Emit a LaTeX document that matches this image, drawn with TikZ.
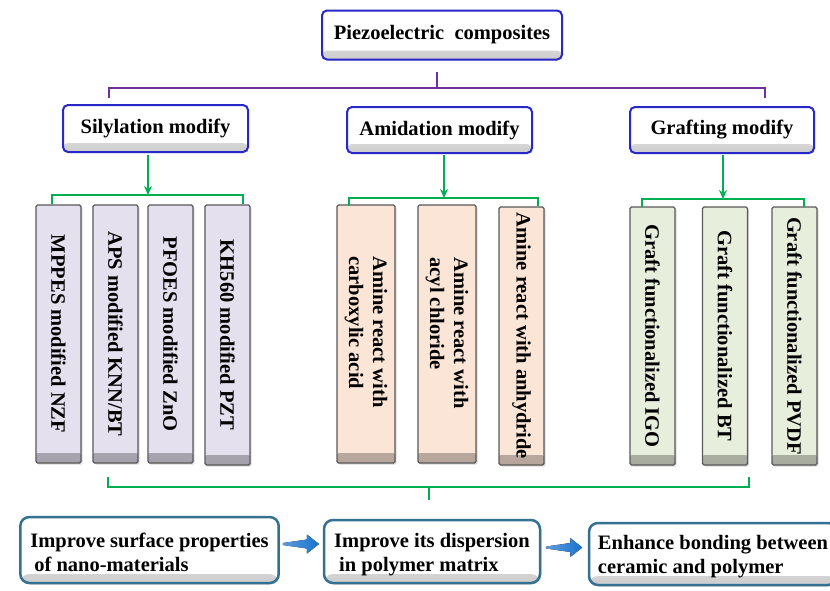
\documentclass[tikz,border=0pt]{standalone}
\usepackage{fontspec}
\setmainfont{Liberation Serif}
\usetikzlibrary{arrows.meta,shadows}
\definecolor{topblue}{RGB}{40,40,200}
\definecolor{brpurple}{RGB}{112,48,160}
\definecolor{brgreen}{RGB}{0,176,80}
\definecolor{lav}{RGB}{228,224,238}
\definecolor{peach}{RGB}{251,229,214}
\definecolor{lgreen}{RGB}{232,238,220}
\definecolor{steel}{RGB}{52,112,145}
\definecolor{arrblue}{RGB}{25,115,205}
\tikzset{
  x=1pt,y=-1pt,
  every node/.style={font=\fontsize{20.5}{24}\selectfont\bfseries},
  botshade/.style={path picture={\shade[top color=#1, bottom color=#1!72!black]
      ([yshift=10pt]path picture bounding box.south west) rectangle (path picture bounding box.south east);}},
  lightshade/.style={path picture={\shade[top color=#1, bottom color=#1!80!black]
      ([yshift=9pt]path picture bounding box.south west) rectangle (path picture bounding box.south east);}},
  headbox/.style={draw=topblue, line width=2pt, rounded corners=5pt, fill=white,
      lightshade=white, inner sep=0pt, drop shadow={opacity=0.25,shadow xshift=1pt,shadow yshift=-1pt}},
  childbox/.style={draw=black!65, line width=1.3pt, rounded corners=1.5pt, fill=#1,
      botshade=#1, inner sep=0pt, minimum width=45pt,
      drop shadow={opacity=0.3,shadow xshift=1.5pt,shadow yshift=-1.5pt}},
  vtext/.style={rotate=-90, align=left, inner sep=0pt},
  endbox/.style={draw=steel, line width=2.5pt, rounded corners=9pt, fill=white,
      lightshade=white, align=left, inner xsep=10pt, inner ysep=0pt,
      drop shadow={opacity=0.25,shadow xshift=1.5pt,shadow yshift=-1.5pt}},
  purpleline/.style={draw=brpurple, line width=2pt},
  greenline/.style={draw=brgreen, line width=2pt},
  greenarrow/.style={draw=brgreen, line width=2pt, -{Stealth[length=9pt,width=8pt]}},
  blockarrow/.style={left color=arrblue!70, right color=arrblue},
}
\begin{document}
\begin{tikzpicture}
\useasboundingbox (0,0) rectangle (830,590);
\fill[white] (0,0) rectangle (830,590);

% top
\node[headbox, minimum width=240pt, minimum height=49pt] (top) at (442,35) {Piezoelectric\ \ composites};

% second level
\node[headbox, minimum width=185pt, minimum height=47pt] (sil) at (155.5,128.5) {Silylation modify};
\node[headbox, minimum width=185pt, minimum height=46pt] (ami) at (439.5,130) {Amidation modify};
\node[headbox, minimum width=184pt, minimum height=46pt] (gra) at (722,130) {Grafting modify};

% purple bracket
\coordinate (pc) at (437,72);
\coordinate (pm) at (437,88);
\coordinate (pl) at (109,88);
\coordinate (pr) at (765,88);
\draw[purpleline] (pm) -- (pc);
\draw[purpleline] (109,98) -- (pl) -- (pr) -- (765,98);

% children: silylation
\node[childbox=lav, minimum height=258pt] (s1) at (58.5,334) {};
\node[childbox=lav, minimum height=258pt] (s2) at (115.5,334) {};
\node[childbox=lav, minimum height=258pt] (s3) at (170.5,334) {};
\node[childbox=lav, minimum height=260pt] (s4) at (227.5,335) {};
\node[vtext] (s1t) at (s1) {MPPES modified NZF};
\node[vtext] (s2t) at (s2) {APS modified KNN/BT};
\node[vtext] (s3t) at (s3) {PFOES modified ZnO};
\node[vtext] (s4t) at (s4) {KH560 modified PZT};

% children: amidation
\node[childbox=peach, minimum width=58pt, minimum height=258pt] (a1) at (366,334) {};
\node[childbox=peach, minimum width=58pt, minimum height=258pt] (a2) at (447,334) {};
\node[childbox=peach, minimum height=258pt] (a3) at (521.5,336) {};
\node[vtext] (a1t) at (366,332) {Amine react with\\carboxylic acid};
\node[vtext] (a2t) at (447,333) {Amine react with\\acyl chloride};
\node[vtext] (a3t) at (a3) {Amine react with anhydride};

% children: grafting
\node[childbox=lgreen, minimum height=258pt] (g1) at (652.5,336) {};
\node[childbox=lgreen, minimum height=258pt] (g2) at (725,336) {};
\node[childbox=lgreen, minimum height=258pt] (g3) at (794.5,336) {};
\node[vtext] (g1t) at (g1) {Graft functionalized IGO};
\node[vtext] (g2t) at (g2) {Graft functionalized BT};
\node[vtext] (g3t) at (g3) {Graft functionalized PVDF};

% green arrows and brackets
\coordinate (sa) at (148,155);
\coordinate (sb) at (148,195);
\draw[greenarrow] (sa) -- (sb);
\draw[greenline] (52,204) -- (52,195) -- (243,195) -- (243,204);

\coordinate (aa) at (444,155);
\coordinate (ab) at (444,198);
\draw[greenarrow] (aa) -- (ab);
\draw[greenline] (349,206) -- (349,198) -- (538,198) -- (538,206);

\coordinate (ga) at (723,155);
\coordinate (gb) at (723,199);
\draw[greenarrow] (ga) -- (gb);
\draw[greenline] (642,207) -- (642,199) -- (804,199) -- (804,207);

% bottom bracket
\coordinate (bl) at (108,487);
\coordinate (br) at (749,487);
\coordinate (bm) at (429,487);
\coordinate (bd) at (429,500);
\draw[greenline] (108,477) -- (bl) -- (br) -- (749,477);
\draw[greenline] (bm) -- (bd);

% bottom boxes
\node[endbox, minimum width=257pt, minimum height=66pt] (b1) at (149.5,550)
  {\rule{0pt}{20pt}Improve surface properties\\\hspace*{4pt}of nano-materials};
\node[endbox, minimum width=216pt, minimum height=63pt] (b2) at (432,551.5)
  {\rule{0pt}{20pt}Improve its dispersion\\\hspace*{5pt}in polymer matrix};
\node[endbox, minimum width=248pt, minimum height=62pt, inner xsep=4pt] (b3) at (713,554)
  {\rule{0pt}{20pt}Enhance bonding between\\ceramic and polymer};

% blue block arrows
\path ([yshift=6pt]b1.east) ++(3,0) coordinate (ar1);
\fill[blockarrow] (ar1) -- ++(0,-1) -- ++(24,-3.5) -- ++(0,-5) -- ++(12,9.5) -- ++(-12,9.5) -- ++(0,-5) -- ++(-24,-3.5) -- cycle;
\path ([yshift=4pt]b2.east) ++(5,0) coordinate (ar2);
\fill[blockarrow] (ar2) -- ++(0,-1) -- ++(24,-3.5) -- ++(0,-5) -- ++(12,9.5) -- ++(-12,9.5) -- ++(0,-5) -- ++(-24,-3.5) -- cycle;
\end{tikzpicture}
\end{document}
